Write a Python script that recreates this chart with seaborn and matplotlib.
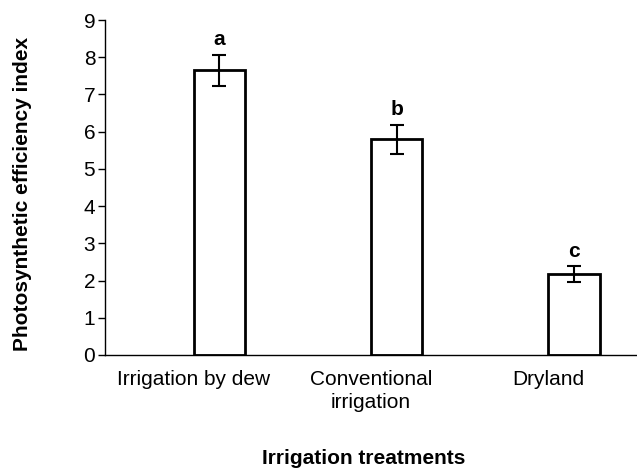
import numpy as np
import pandas as pd
import matplotlib
matplotlib.use("Agg")
import matplotlib.pyplot as plt
import seaborn as sns

# Chart values
treatments = ["Irrigation by dew", "Conventional\nirrigation", "Dryland"]
efficiency = [7.65, 5.80, 2.17]
std_err = [0.42, 0.39, 0.21]
letters = ["a", "b", "c"]

sns.set_theme(style="white", rc={"text.color": "black",
                                 "xtick.color": "black",
                                 "ytick.color": "black",
                                 "axes.labelcolor": "black"})
plt.rcParams["font.family"] = ["Liberation Sans", "DejaVu Sans"]

fig = plt.figure(figsize=(6.37, 4.70), dpi=100)
ax = fig.add_axes([105 / 637, 115 / 470, 1 - 105 / 637, 335 / 470])

# Excel-style: bars sit slightly right of the category centre
offset = 0.145
df = pd.DataFrame({
    "pos": np.arange(len(treatments)) + offset,
    "value": efficiency,
})
sns.barplot(data=df, x="pos", y="value", native_scale=True, width=0.29,
            color="white", edgecolor="black", linewidth=2, ax=ax)
ax.errorbar(df["pos"], df["value"], yerr=std_err, fmt="none",
            ecolor="black", elinewidth=1.5, capsize=5, capthick=1.5)

for x, y, e, lab in zip(df["pos"], efficiency, std_err, letters):
    ax.text(x, y + e + 0.14, lab, ha="center", va="bottom",
            fontsize=15, fontweight="bold")

ax.set_ylim(0, 9)
ax.set_xlim(-0.5, (637 - 105) / 180.5 - 0.5)
ax.set_yticks(range(0, 10))
ax.set_xticks([-0.5, 0.5, 1.5, 2.5])
ax.set_xticklabels([])
ax.set_xticks(range(len(treatments)), minor=True)
ax.set_xticklabels(treatments, minor=True, fontsize=15, linespacing=1.25)
ax.tick_params(axis="x", which="minor", length=0, pad=11)
ax.tick_params(axis="x", which="major", direction="out", length=5, width=1,
               color="black")
ax.tick_params(axis="y", direction="out", length=5, width=1, color="black",
               labelsize=15, pad=2, left=True)

for side in ["top", "right"]:
    ax.spines[side].set_visible(False)
for side in ["left", "bottom"]:
    ax.spines[side].set_color("black")
    ax.spines[side].set_linewidth(1)

ax.set_xlabel("")
ax.set_ylabel("")
fig.text(364 / 637, 1 - 458 / 470, "Irrigation treatments", ha="center",
         va="center", fontsize=15, fontweight="bold")
fig.text(23 / 637, 1 - 194 / 470, "Photosynthetic efficiency index",
         rotation=90, ha="center", va="center", fontsize=15,
         fontweight="bold")

fig.savefig("out.png", dpi=100)
